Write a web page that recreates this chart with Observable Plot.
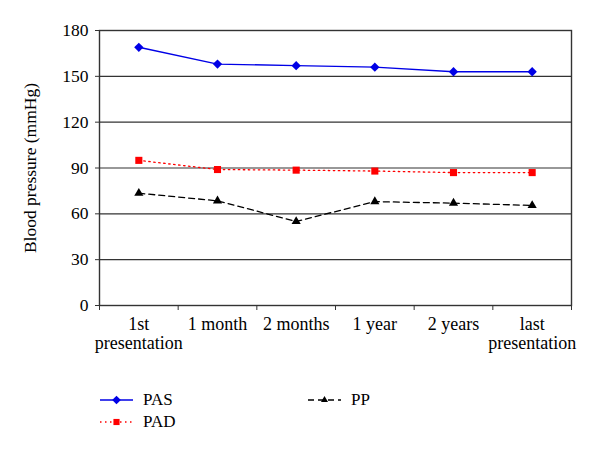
<!DOCTYPE html>
<html>
<head>
<meta charset="utf-8">
<script src="https://cdn.jsdelivr.net/npm/d3@7"></script>
<script src="https://cdn.jsdelivr.net/npm/@observablehq/plot@0.6"></script>
<style>
  html, body { margin: 0; padding: 0; background: #fff; }
  #wrap { position: relative; width: 600px; height: 453px; font-family: "Liberation Serif", "Times New Roman", Tinos, "DejaVu Serif", serif; }
  .leg { position: absolute; display: flex; align-items: center; font-size: 17px; color: #000; }
  .leg svg { margin-right: 10px; }
  #wrap svg text { font-family: "Liberation Serif", "Times New Roman", Tinos, "DejaVu Serif", serif; }
</style>
</head>
<body>
<div id="wrap"></div>
<script>
const categories = ["1st\npresentation", "1 month", "2 months", "1 year", "2 years", "last\npresentation"];
const pas = [169, 158, 157, 156, 153, 153];
const pad = [95, 89, 88.6, 88, 87, 87];
const pp = [73.5, 68.5, 55, 68, 67, 65.5];
const yTicks = [0, 30, 60, 90, 120, 150, 180];

const series = [
  {name: "PAS", values: pas, color: "#0000e6", symbol: "diamond2", r: 4.2, dash: null, width: 1.4},
  {name: "PAD", values: pad, color: "#ff0000", symbol: "square", r: 4.0, dash: "1.5,3.5", width: 1.3},
  {name: "PP", values: pp, color: "#000000", symbol: "triangle", r: 3.4, dash: "6,4", width: 1.3}
];

const rows = series.flatMap(s => s.values.map((v, i) => ({series: s.name, x: i + 0.5, y: v})));
const idx = categories.map((c, i) => i + 0.5);
const bounds = d3.range(categories.length + 1);
const FONT = "'Liberation Serif', 'Times New Roman', Tinos, 'DejaVu Serif', serif";

const marks = [
  Plot.ruleY(yTicks, {y: d => d, stroke: "#333", strokeWidth: 1.2}),
  Plot.frame({stroke: "#333", strokeWidth: 1.4}),
  Plot.axisY({ticks: yTicks, tickSize: 4, tickPadding: 7, fontSize: 17.5, label: "Blood pressure (mmHg)", labelAnchor: "center", labelArrow: "none", labelOffset: 76, stroke: "#333"}),
  Plot.axisX({ticks: bounds, tickSize: 5, tickFormat: () => "", stroke: "#333", label: null}),
  Plot.axisX({ticks: idx, tickSize: 0, tickPadding: 11, tickFormat: (d) => categories[Math.round(d - 0.5)], fontSize: 18, lineHeight: 1.05, label: null})
];
for (const s of series) {
  const data = rows.filter(r => r.series === s.name);
  marks.push(Plot.line(data, {x: "x", y: "y", stroke: s.color, strokeWidth: s.width, strokeDasharray: s.dash}));
  marks.push(Plot.dot(data, {x: "x", y: "y", fill: s.color, symbol: s.symbol, r: s.r, stroke: "none"}));
}

const chart = Plot.plot({
  width: 600, height: 453,
  marginLeft: 99, marginRight: 29, marginTop: 30, marginBottom: 148,
  style: {fontFamily: FONT, fontSize: "18px", color: "#000", background: "#fff"},
  x: {type: "linear", domain: [0, categories.length], axis: null},
  y: {domain: [0, 180], axis: null},
  marks
});
const wrap = document.getElementById("wrap");
wrap.appendChild(chart);

const legendPos = {PAS: [100, 390], PAD: [100, 412], PP: [308, 390]};
for (const s of series) {
  const div = document.createElement("div");
  div.className = "leg";
  div.style.left = legendPos[s.name][0] + "px";
  div.style.top = legendPos[s.name][1] + "px";
  const sw = d3.create("svg").attr("width", 33).attr("height", 20);
  sw.append("line").attr("x1", 0).attr("x2", 33).attr("y1", 10).attr("y2", 10)
    .attr("stroke", s.color).attr("stroke-width", s.width).attr("stroke-dasharray", s.dash);
  const sym = s.symbol === "diamond2" ? d3.symbolDiamond2 : s.symbol === "square" ? d3.symbolSquare2 : d3.symbolTriangle2;
  sw.append("path").attr("d", d3.symbol(sym, s.symbol === "triangle" ? 36 : 48)()).attr("transform", "translate(16.5,10)")
    .attr("fill", s.color).attr("stroke", "none");
  div.appendChild(sw.node());
  const t = document.createElement("span");
  t.textContent = s.name;
  div.appendChild(t);
  wrap.appendChild(div);
}
</script>
</body>
</html>
